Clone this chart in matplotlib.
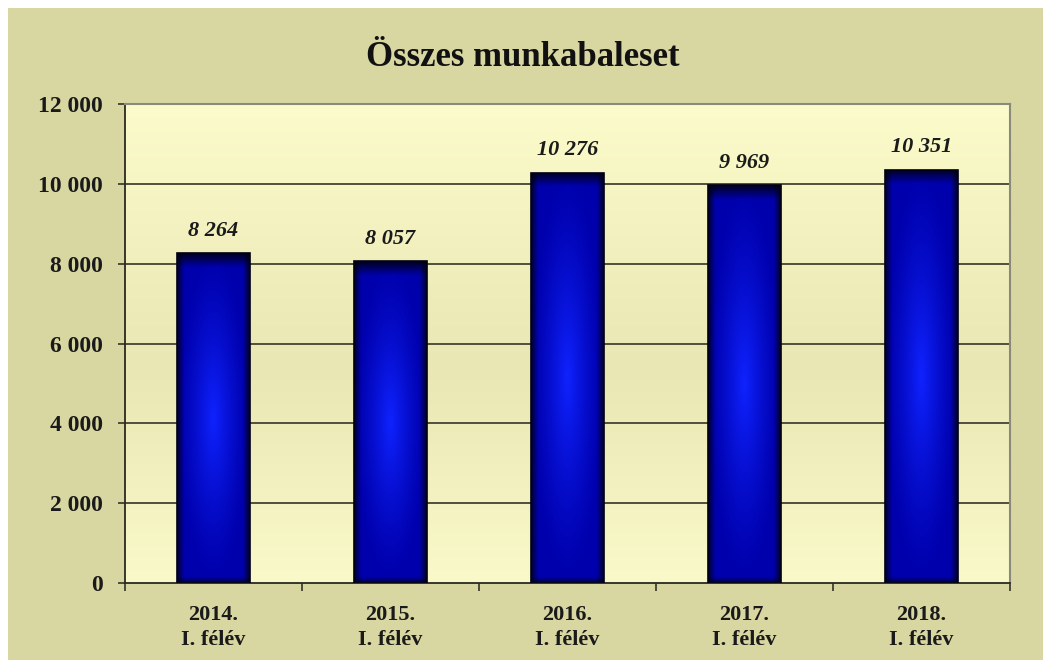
import numpy as np
import matplotlib
matplotlib.use("Agg")
import matplotlib.pyplot as plt
from matplotlib.colors import LinearSegmentedColormap
from matplotlib.patches import Rectangle
from matplotlib.ticker import FuncFormatter, MultipleLocator, FixedLocator

# data
categories = ["2014.\nI. félév", "2015.\nI. félév", "2016.\nI. félév",
              "2017.\nI. félév", "2018.\nI. félév"]
values = [8264, 8057, 10276, 9969, 10351]
title = "Összes munkabaleset"

plt.rcParams['font.family'] = ['Liberation Serif', 'DejaVu Serif']

def fmt_num(v, pos=None):
    return f"{int(v):,}".replace(",", " ")

fig = plt.figure(figsize=(10.43, 6.63), dpi=100)
fig.patch.set_facecolor("white")

# khaki outer panel
W, H = 1043, 663
fig.add_artist(Rectangle((8 / W, 3 / H), (W - 8) / W, (H - 11) / H,
                         transform=fig.transFigure, facecolor="#D8D6A1",
                         edgecolor="none", zorder=-10))

ax = fig.add_axes([125 / W, 1 - 583 / H, 885 / W, 479 / H])
ax.set_zorder(1)
ax.set_xlim(-0.5, len(categories) - 0.5)
ax.set_ylim(0, 12000)

# plot area gradient
bg_cmap = LinearSegmentedColormap.from_list(
    "bg", [(0.0, "#FAF9C9"), (0.45, "#E9E7B3"), (1.0, "#FCFBCB")])
grad = np.linspace(0, 1, 256).reshape(-1, 1)
ax.imshow(grad, cmap=bg_cmap, aspect="auto", extent=[-0.5, len(categories) - 0.5, 0, 12000],
          origin="lower", zorder=0)

# grid
ax.yaxis.set_major_locator(MultipleLocator(2000))
for yv in np.arange(2000, 12001, 2000):
    ax.axhline(yv, color="#4f4f3c", lw=1.4, zorder=1)

# bars
x = np.arange(len(categories))
bars = ax.bar(x, values, width=0.41, color="none", edgecolor="#000018", lw=1.2, zorder=3)

base = np.array([0, 0, 172]) / 255
center = np.array([15, 35, 255]) / 255
px_per_unit = 479 / 12000
for b in bars:
    bx, bw, bh = b.get_x(), b.get_width(), b.get_height()
    ny = int(bh * px_per_unit)
    nx = 72
    U, V = np.meshgrid(np.linspace(-1, 1, nx), np.linspace(-1, 1, ny))
    d = np.clip(np.sqrt(U ** 2 + V ** 2), 0, 1)
    t = (1 - d) ** 1.3
    img = base[None, None, :] * (1 - t[..., None]) + center[None, None, :] * t[..., None]
    # edge shading (pixels)
    col = np.arange(nx)
    side = np.minimum(col, nx - 1 - col)
    fs = 0.2 + 0.8 * np.clip(side / 7, 0, 1) ** 0.8
    row = np.arange(ny)  # row 0 = bottom
    ftop = 0.15 + 0.85 * np.clip((ny - 1 - row) / 14, 0, 1) ** 0.9
    fbot = 0.4 + 0.6 * np.clip(row / 6, 0, 1)
    shade = fs[None, :] * ftop[:, None] * fbot[:, None]
    img = img * shade[..., None]
    im = ax.imshow(img, aspect="auto", extent=[bx, bx + bw, 0, bh],
                   origin="lower", zorder=2, interpolation="bilinear")
    im.set_clip_path(b)
    ax.annotate(fmt_num(b.get_height()), (b.get_x() + bw / 2, bh),
                xytext=(0, 9), textcoords="offset points", ha="center", va="bottom",
                fontsize=16, fontweight="bold", fontstyle="italic", color="#1a1a1a")

ax.set_xlim(-0.5, len(categories) - 0.5)
ax.set_ylim(0, 12000)

# axes style
ax.yaxis.set_major_formatter(FuncFormatter(fmt_num))
ax.tick_params(axis="y", length=5, width=1.2, color="#333328", pad=11,
               labelsize=17, labelcolor="#1a1a1a")
ax.set_xticks(x)
ax.set_xticklabels(categories, fontsize=16, fontweight="bold", color="#1a1a1a", linespacing=1.3)
ax.xaxis.set_minor_locator(FixedLocator(np.arange(-0.5, len(categories), 1.0)))
ax.tick_params(axis="x", which="major", length=0, pad=16)
ax.tick_params(axis="x", which="minor", length=6, width=1.2, color="#333328")
for lbl in ax.get_yticklabels():
    lbl.set_fontweight("bold")

ax.spines["left"].set_color("#2a2a20")
ax.spines["bottom"].set_color("#2a2a20")
ax.spines["left"].set_linewidth(1.3)
ax.spines["bottom"].set_linewidth(1.3)
ax.spines["top"].set_color("#8a8a7a")
ax.spines["right"].set_color("#8a8a7a")
ax.spines["top"].set_linewidth(1.5)
ax.spines["right"].set_linewidth(1.5)

fig.text(523 / W, 1 - 58 / H, title, ha="center", va="center",
         fontsize=25, fontweight="bold", color="#111111")

fig.savefig("out.png", dpi=100)
